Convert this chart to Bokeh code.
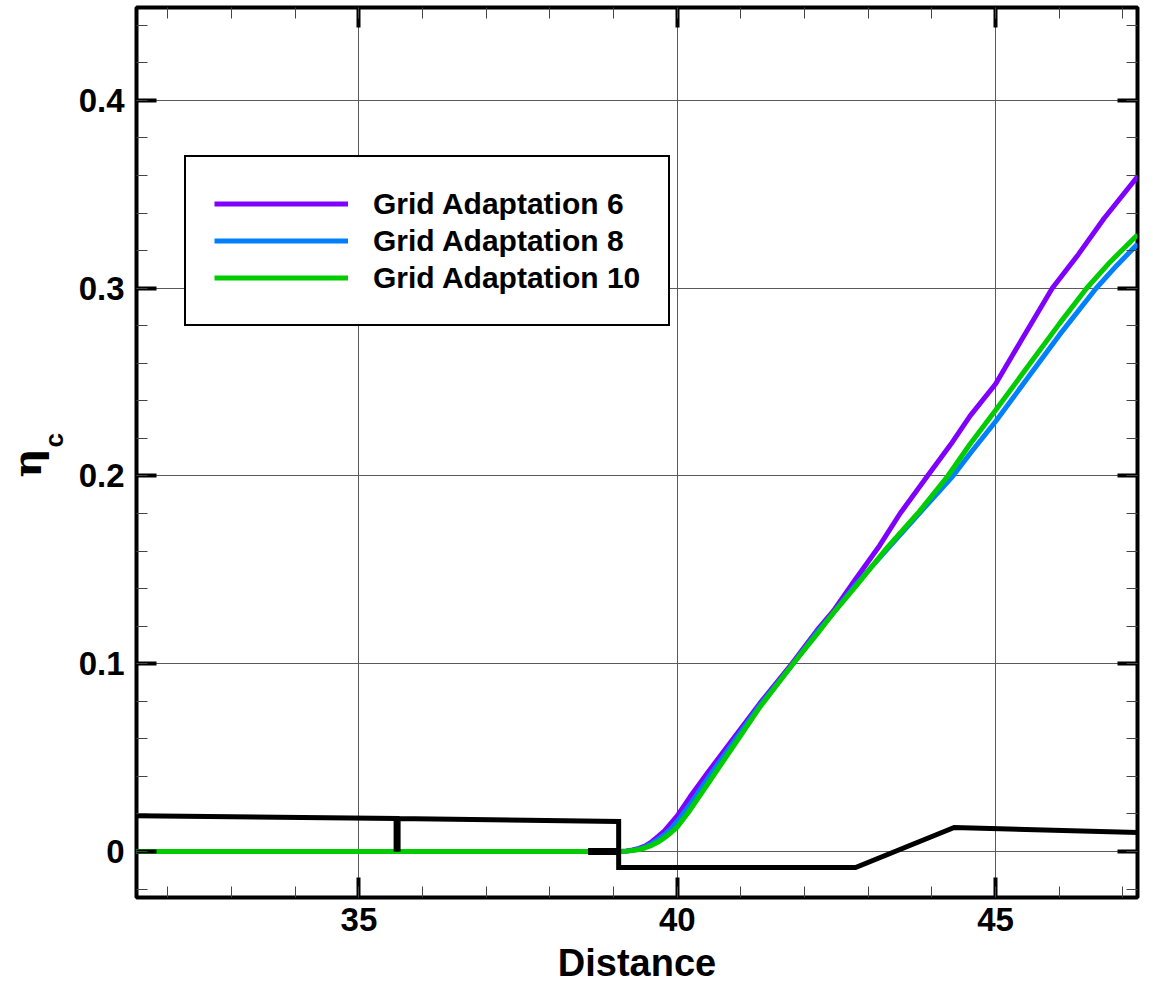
from bokeh.plotting import figure
from bokeh.models import (Range1d, FixedTicker, LinearAxis, Legend, LegendItem,
                          Title, NumeralTickFormatter)
from bokeh.embed import file_html
from bokeh.resources import INLINE

# ---------------- data ----------------
x_major = [35, 40, 45]
x_labels = ["35", "40", "45"]
x_minor = list(range(32, 48))
y_major = [0.0, 0.1, 0.2, 0.3, 0.4]
y_labels = ["0", "0.1", "0.2", "0.3", "0.4"]
y_minor = [round(-0.02 + 0.02 * i, 2) for i in range(24)]

ga6_x = [31.5, 39.1, 39.2, 39.3, 39.4, 39.5, 39.6, 39.7, 39.8, 39.9, 40.0, 40.2, 40.5, 40.9, 41.3,
         41.8, 42.2, 42.45, 42.8, 43.18, 43.5, 43.93, 44.3, 44.6, 45.0, 45.4, 45.89, 46.3, 46.7, 47.23]
ga6_y = [0.0, 0.0, 0.0003, 0.0008, 0.0017, 0.003, 0.0052, 0.008, 0.011, 0.015, 0.019, 0.029, 0.043,
         0.061, 0.079, 0.100, 0.118, 0.128, 0.145, 0.163, 0.180, 0.200, 0.217, 0.232, 0.249, 0.272,
         0.300, 0.318, 0.337, 0.3595]

ga8_x = [31.5, 39.1, 39.2, 39.3, 39.4, 39.5, 39.6, 39.7, 39.8, 39.9, 40.0, 40.2, 40.5, 40.9, 41.3,
         41.82, 42.2, 42.45, 42.8, 43.3, 43.8, 44.33, 44.6, 45.0, 45.5, 46.0, 46.58, 46.9, 47.23]
ga8_y = [0.0, 0.0, 0.0002, 0.0006, 0.0013, 0.0025, 0.0042, 0.0065, 0.009, 0.012, 0.016, 0.025, 0.040,
         0.059, 0.078, 0.100, 0.117, 0.127, 0.142, 0.161, 0.180, 0.200, 0.212, 0.229, 0.252, 0.275,
         0.300, 0.312, 0.3235]

ga10_x = [31.5, 39.1, 39.2, 39.3, 39.4, 39.5, 39.6, 39.7, 39.8, 39.9, 40.0, 40.2, 40.5, 40.9, 41.3,
          41.82, 42.2, 42.45, 42.8, 43.3, 43.8, 44.25, 44.6, 45.0, 45.5, 46.0, 46.43, 46.8, 47.23]
ga10_y = [0.0, 0.0, 0.0002, 0.0005, 0.001, 0.002, 0.0033, 0.005, 0.0073, 0.010, 0.013, 0.022, 0.037,
          0.057, 0.077, 0.100, 0.116, 0.127, 0.141, 0.162, 0.181, 0.200, 0.217, 0.235, 0.258, 0.281,
          0.300, 0.314, 0.3285]

profile_x = [31.5, 35.6, 35.6, 35.6, 39.08, 39.08, 38.6, 39.08, 39.08, 42.8, 44.35, 47.23]
profile_y = [0.019, 0.0176, 0.0, 0.0176, 0.016, 0.0, 0.0, 0.0, -0.0085, -0.0085, 0.0128, 0.0101]

# thicker pieces of the profile (notch and short floor piece)
notch_x0 = [35.6, 38.6]
notch_y0 = [0.0176, 0.0]
notch_x1 = [35.6, 39.08]
notch_y1 = [0.0, 0.0]

series_names = ["Grid Adaptation 6", "Grid Adaptation 8", "Grid Adaptation 10"]
series_colors = ["#7F00FF", "#0080FF", "#00CC00"]

# ---------------- figure ----------------
p = figure(width=1153, height=986,
           x_range=Range1d(31.507, 47.229), y_range=Range1d(-0.0245, 0.4495),
           output_backend="svg", toolbar_location=None,
           min_border_left=136, min_border_right=16, min_border_top=7, min_border_bottom=88,
           background_fill_color="white", border_fill_color="white")
p.outline_line_color = "black"
p.outline_line_width = 4
p.outline_line_alpha = 1.0

xticker = FixedTicker(ticks=x_major, minor_ticks=x_minor)
yticker = FixedTicker(ticks=y_major, minor_ticks=y_minor)

FONT = "Liberation Sans"


def style_axis(ax, show_labels, overrides):
    ax.axis_line_color = None
    ax.major_tick_in = 20
    ax.major_tick_out = 0
    ax.major_tick_line_width = 4
    ax.major_tick_line_color = "black"
    ax.minor_tick_in = 11
    ax.minor_tick_out = 0
    ax.minor_tick_line_width = 1
    ax.minor_tick_line_color = "#444444"
    if show_labels:
        ax.major_label_text_font = FONT
        ax.major_label_text_font_style = "bold"
        ax.major_label_text_font_size = "33px"
        ax.major_label_text_color = "black"
        ax.major_label_overrides = overrides
        ax.formatter = NumeralTickFormatter(format="0.[0]")
    else:
        ax.major_label_text_font_size = "1px"
        ax.major_label_text_color = None
        ax.major_label_standoff = 0


x_over = {v: s for v, s in zip(x_major, x_labels)}
y_over = {v: s for v, s in zip(y_major, y_labels)}

p.xaxis.ticker = xticker
p.yaxis.ticker = yticker
for ax in p.xaxis:
    style_axis(ax, True, x_over)
    ax.major_label_standoff = 10
    ax.axis_label = "Distance"
    ax.axis_label_text_font = FONT
    ax.axis_label_text_font_style = "bold"
    ax.axis_label_text_font_size = "38px"
    ax.axis_label_text_color = "black"
    ax.axis_label_standoff = 8
for ax in p.yaxis:
    style_axis(ax, True, y_over)
    ax.major_label_standoff = 12

top = LinearAxis(ticker=xticker)
style_axis(top, False, {})
p.add_layout(top, "above")
right = LinearAxis(ticker=yticker)
style_axis(right, False, {})
p.add_layout(right, "right")

p.xgrid.ticker = xticker
p.ygrid.ticker = yticker
for g in (p.xgrid[0], p.ygrid[0]):
    g.grid_line_color = "#5a5a5a"
    g.grid_line_width = 1

# ---------------- lines ----------------
renderers = []
for xs, ys, c in [(ga6_x, ga6_y, series_colors[0]),
                  (ga8_x, ga8_y, series_colors[1]),
                  (ga10_x, ga10_y, series_colors[2])]:
    r = p.line(xs, ys, line_color=c, line_width=5)
    renderers.append(r)

p.line(profile_x, profile_y, line_color="black", line_width=5, line_join="miter")
p.segment(x0=notch_x0, y0=notch_y0, x1=notch_x1, y1=notch_y1, line_color="black", line_width=7)

legend = Legend(items=[LegendItem(label=n, renderers=[r]) for n, r in zip(series_names, renderers)],
                location=(48, 571), orientation="vertical",
                label_text_font=FONT, label_text_font_style="bold", label_text_font_size="30px",
                label_text_color="black", label_standoff=25, label_height=37,
                glyph_width=134, glyph_height=37, spacing=0, padding=28, margin=0,
                border_line_color="black", border_line_width=2, border_line_alpha=1.0,
                background_fill_color="white", background_fill_alpha=1.0)
p.add_layout(legend)

# y-axis title: eta with subscript c, as two side titles
title_c = Title(text="c", align="left", vertical_align="bottom", offset=450, standoff=14,
                text_font=FONT, text_font_style="bold", text_font_size="26px", text_color="black")
title_eta = Title(text="η", align="left", vertical_align="bottom", offset=420, standoff=-40,
                  text_font="DejaVu Serif", text_font_style="bold", text_font_size="40px",
                  text_color="black")
p.add_layout(title_c, "left")
p.add_layout(title_eta, "left")

open("out.html", "w").write(file_html(p, INLINE))
